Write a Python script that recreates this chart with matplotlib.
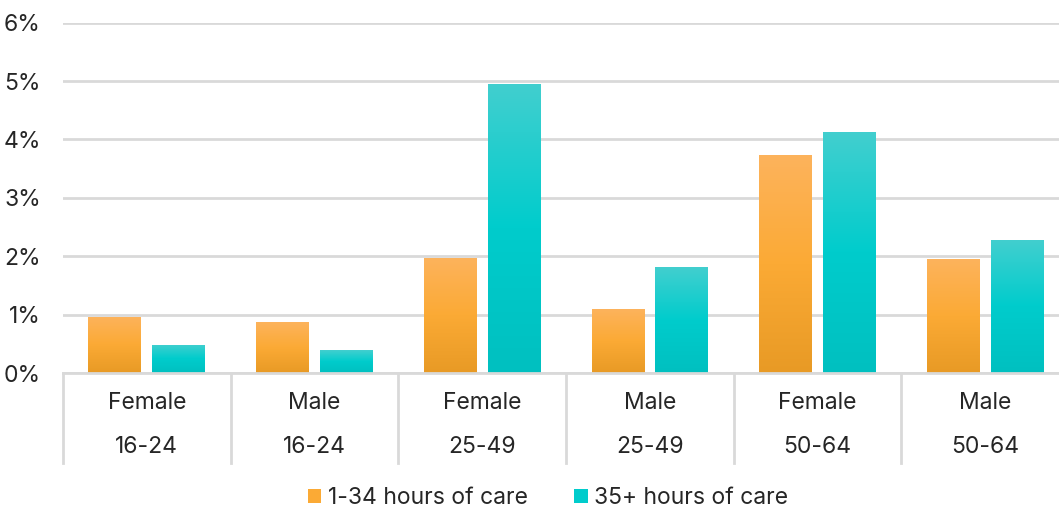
import numpy as np
import matplotlib.pyplot as plt
from matplotlib.patches import Rectangle
from matplotlib.colors import LinearSegmentedColormap

plt.rcParams['font.family'] = ['Inter', 'DejaVu Sans']

# share of people providing unpaid care, by sex and age band
sexes = ['Female', 'Male', 'Female', 'Male', 'Female', 'Male']
ages = ['16-24', '16-24', '25-49', '25-49', '50-64', '50-64']
care_1_34 = [0.96, 0.87, 1.97, 1.09, 3.73, 1.95]
care_35p = [0.48, 0.39, 4.95, 1.81, 4.12, 2.27]
series_names = ['1-34 hours of care', '35+ hours of care']
yticks = [0, 1, 2, 3, 4, 5, 6]

orange = LinearSegmentedColormap.from_list('or', ['#e89a25', '#fbaa35', '#fdb35c'])
teal = LinearSegmentedColormap.from_list('tl', ['#00c0c0', '#00cccc', '#42cfcf'])
grad = np.linspace(0, 1, 256).reshape(-1, 1)

fs = 16.5
fig = plt.figure(figsize=(10.59, 5.11), dpi=100)
ax = fig.add_axes([63 / 1059, 1 - 373 / 511, 996 / 1059, (373 - 22.6) / 511])

x = np.arange(len(sexes))
w = 0.316
off = 0.19
for vals, cmap, sign in [(care_1_34, orange, -1), (care_35p, teal, 1)]:
    for xi, v in zip(x, vals):
        x0 = xi + sign * off - w / 2
        rect = Rectangle((x0, 0), w, v, facecolor='none', edgecolor='none')
        ax.add_patch(rect)
        im = ax.imshow(grad, cmap=cmap, origin='lower', aspect='auto',
                       extent=(x0, x0 + w, 0, v), zorder=2)
        im.set_clip_path(rect)

ax.set_xlim(-0.5, 5.44)
ax.set_ylim(0, 6)
ax.set_yticks(yticks)
ax.set_yticklabels([f'{t}%' for t in yticks], fontsize=fs, color='#262626')
ax.tick_params(axis='y', length=0, pad=16)
ax.yaxis.grid(True, color='#d9d9d9', linewidth=2)
ax.set_axisbelow(True)
for s in ['top', 'right', 'left']:
    ax.spines[s].set_visible(False)
ax.spines['bottom'].set_color('#d9d9d9')
ax.spines['bottom'].set_linewidth(2)
ax.set_xticks([])

# two-level category labels with separators
trans = ax.get_xaxis_transform()
h = 373 - 22.6
sep_bottom = -(463 - 373) / h
for b in np.arange(-0.5, 6, 1.0):
    ax.plot([b, b], [0, sep_bottom], transform=trans, color='#d9d9d9',
            linewidth=2, clip_on=False)
for xi, sx, ag in zip(x, sexes, ages):
    ax.text(xi, -(403 - 373) / h, sx, transform=trans, ha='center',
            va='center', fontsize=fs, color='#262626')
    ax.text(xi, -(447 - 373) / h, ag, transform=trans, ha='center',
            va='center', fontsize=fs, color='#262626')

handles = [Rectangle((0, 0), 1, 1, facecolor='#fbaa35'),
           Rectangle((0, 0), 1, 1, facecolor='#00cccc')]
fig.legend(handles, series_names, loc='center', bbox_to_anchor=(548 / 1059, 1 - 498 / 511),
           ncol=2, frameon=False, fontsize=fs, handlelength=0.6, handleheight=0.6,
           handletextpad=0.3, columnspacing=2.0, labelcolor='#262626')

fig.savefig('out.png', dpi=100)
